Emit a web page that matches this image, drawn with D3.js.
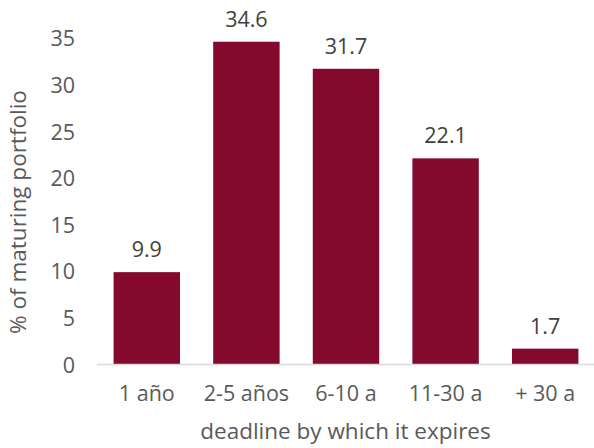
<!DOCTYPE html>
<html>
<head>
<meta charset="utf-8">
<script src="https://cdn.jsdelivr.net/npm/d3@7"></script>
<style>
  html, body { margin: 0; padding: 0; background: #fff; }
  svg { display: block; }
  text { font-family: "Open Sans", "Lato", sans-serif; }
</style>
</head>
<body>
<svg id="chart" width="594" height="448"></svg>
<script>
// Maturity buckets and share of the maturing portfolio (%)
const categories = ["1 año", "2-5 años", "6-10 a", "11-30 a", "+ 30 a"];
const shares = [9.9, 34.6, 31.7, 22.1, 1.7];
const yTicks = [0, 5, 10, 15, 20, 25, 30, 35];
const xTitle = "deadline by which it expires";
const yTitle = "% of maturing portfolio";

const width = 594, height = 448;
const margin = { top: 38, right: 0, bottom: 83.5, left: 97 };
const fontSize = "21.5px";
const titleSize = "22.5px";

const svg = d3.select("#chart");

const x = d3.scaleBand()
  .domain(categories)
  .range([margin.left, width - margin.right + 1])
  .paddingInner(0.333)
  .paddingOuter(0.1665);

const y = d3.scaleLinear()
  .domain([0, 35])
  .range([height - margin.bottom, margin.top]);

const data = categories.map((c, i) => ({ cat: c, val: shares[i] }));

// Bars
svg.append("g")
  .selectAll("rect")
  .data(data)
  .join("rect")
  .attr("x", d => x(d.cat))
  .attr("width", x.bandwidth())
  .attr("y", d => y(d.val))
  .attr("height", d => y(0) - y(d.val))
  .attr("fill", "#830A2C");

// Baseline (x axis)
const xAxis = svg.append("g")
  .attr("transform", `translate(0,${y(0)})`)
  .call(d3.axisBottom(x).tickSize(0).tickPadding(21));
xAxis.select(".domain").attr("stroke", "#d9d9d9").attr("stroke-width", 1.5)
  .attr("d", `M${margin.left},0H${width}`);
xAxis.selectAll("text")
  .attr("fill", "#595959")
  .style("font-size", fontSize);

// Y axis: labels only
const yAxis = svg.append("g")
  .attr("transform", `translate(${margin.left - 22},0)`)
  .call(d3.axisLeft(y).tickValues(yTicks).tickSize(0).tickPadding(0));
yAxis.select(".domain").remove();
yAxis.selectAll("text")
  .attr("fill", "#595959")
  .attr("dy", "0.36em")
  .style("font-size", fontSize);

// Value labels above bars
svg.append("g")
  .selectAll("text")
  .data(data)
  .join("text")
  .attr("x", d => x(d.cat) + x.bandwidth() / 2)
  .attr("y", d => y(d.val) - 15)
  .attr("text-anchor", "middle")
  .attr("fill", "#404040")
  .style("font-size", fontSize)
  .text(d => d.val.toFixed(1));

// Axis titles
svg.append("text")
  .attr("x", (margin.left + width) / 2)
  .attr("y", 439)
  .attr("text-anchor", "middle")
  .attr("fill", "#595959")
  .style("font-size", titleSize)
  .text(xTitle);

svg.append("text")
  .attr("transform", `translate(26,212) rotate(-90)`)
  .attr("text-anchor", "middle")
  .attr("fill", "#595959")
  .style("font-size", titleSize)
  .text(yTitle);
</script>
</body>
</html>
